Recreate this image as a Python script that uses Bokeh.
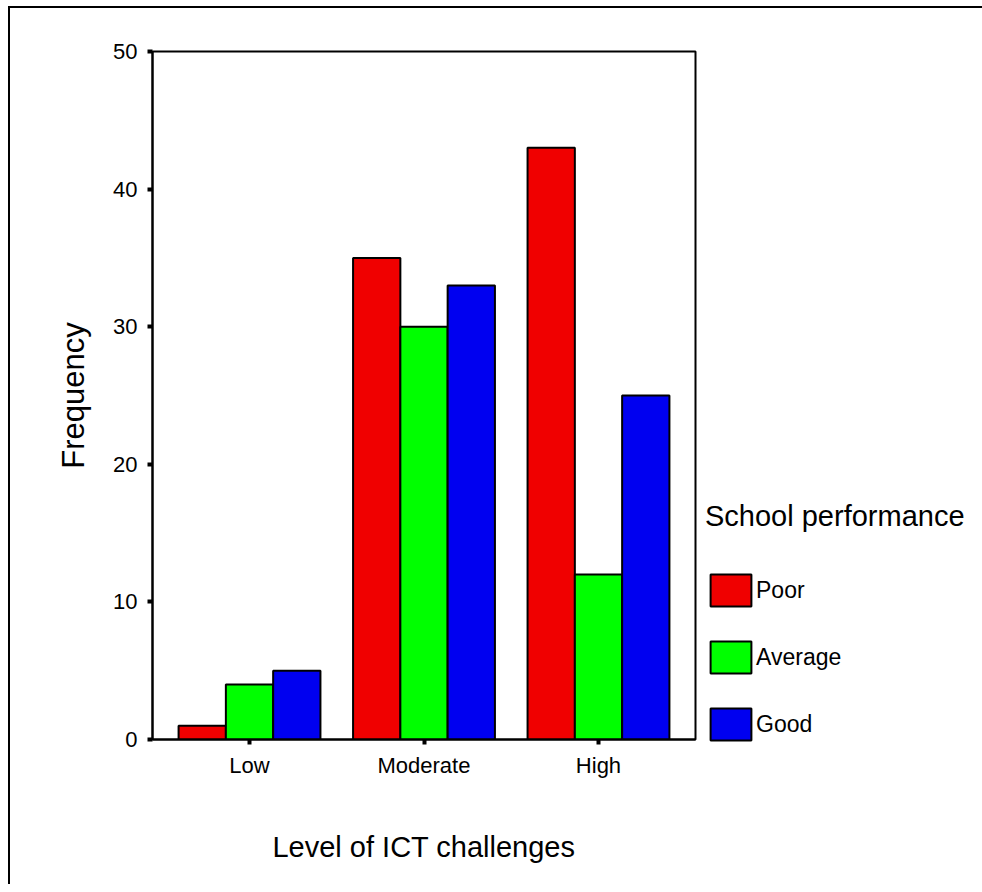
from bokeh.plotting import figure
from bokeh.models import ColumnDataSource, FactorRange, Range1d, Legend, LegendItem
from bokeh.transform import dodge
from bokeh.embed import file_html
from bokeh.resources import INLINE

# ---- data ----
categories = ["Low", "Moderate", "High"]
series = ["Poor", "Average", "Good"]
poor = [1, 35, 43]
average = [4, 30, 12]
good = [5, 33, 25]
y_ticks = [0, 10, 20, 30, 40, 50]

colors = ["#f00000", "#00ff00", "#0000f0"]
FONT = "Liberation Sans"

src = ColumnDataSource(dict(cat=categories, Poor=poor, Average=average, Good=good))

p = figure(
    x_range=FactorRange(*categories, range_padding=0.0373),
    y_range=Range1d(0, 50),
    frame_width=543, frame_height=688,
    output_backend="svg", toolbar_location=None,
    min_border_left=152, min_border_right=285,
    min_border_top=51, min_border_bottom=145,
)
# outer page border (left and top edges only, as in the reference)
p.styles = {
    "background": ("linear-gradient(#000,#000) 8px 6px / 2px calc(100% - 6px) no-repeat, "
                   "linear-gradient(#000,#000) 8px 6px / calc(100% - 8px) 2px no-repeat, #fff"),
}

p.xgrid.visible = False
p.ygrid.visible = False
p.outline_line_color = "black"
p.outline_line_width = 2
p.background_fill_color = "white"
p.border_fill_color = None

bw = 0.271
offsets = [-bw, 0.0, bw]
renderers = []
for off, name, col in zip(offsets, series, colors):
    r = p.vbar(x=dodge("cat", off, range=p.x_range), top=name, width=bw,
               source=src, fill_color=col, line_color="black", line_width=2)
    renderers.append(r)

# axes
p.yaxis.ticker = y_ticks
for ax in (p.xaxis[0], p.yaxis[0]):
    ax.axis_line_color = "black"
    ax.axis_line_width = 2
    ax.major_tick_line_color = "black"
    ax.major_tick_line_width = 4
    ax.major_tick_in = 0
    ax.major_tick_out = 5
    ax.minor_tick_line_color = None
    ax.major_label_text_font = FONT
    ax.major_label_text_font_size = "22px"
    ax.major_label_text_color = "black"
    ax.axis_label_text_font = FONT
    ax.axis_label_text_font_style = "normal"
    ax.axis_label_text_color = "black"

p.yaxis.axis_label = "Frequency"
p.yaxis.axis_label_text_font_size = "31px"
p.yaxis.major_label_standoff = 10
p.yaxis.axis_label_standoff = 19
p.xaxis.axis_label = "Level of ICT challenges"
p.xaxis.axis_label_text_font_size = "29px"
p.xaxis.major_label_standoff = 8
p.xaxis.axis_label_standoff = 50

legend = Legend(
    items=[LegendItem(label=s, renderers=[r]) for s, r in zip(series, renderers)],
    title="School performance",
    location=(10, -5),
    title_text_font=FONT, title_text_font_size="29px", title_text_font_style="normal",
    title_text_color="black", title_standoff=37,
    label_text_font=FONT, label_text_font_size="23px", label_text_color="black",
    glyph_width=51, glyph_height=40, label_standoff=0, spacing=27,
    padding=0, margin=0, border_line_color=None, background_fill_alpha=0,
)
p.add_layout(legend, "right")

open("out.html", "w").write(file_html(p, INLINE))
